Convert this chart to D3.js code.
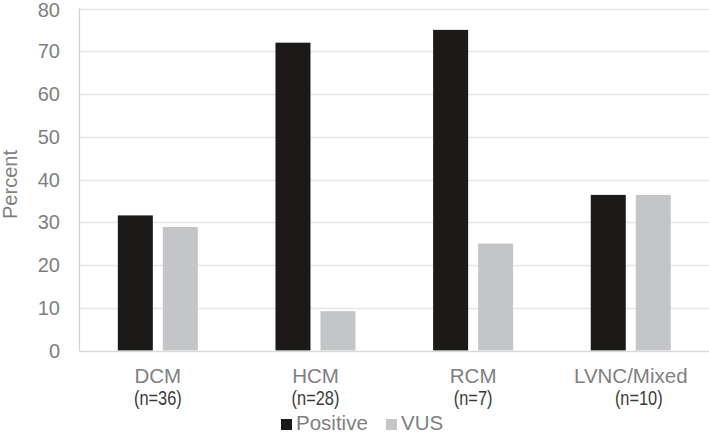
<!DOCTYPE html>
<html>
<head>
<meta charset="utf-8">
<script src="https://cdn.jsdelivr.net/npm/d3@7"></script>
<style>
  body { margin: 0; background: #fff; }
  svg { display: block; font-family: "Liberation Sans", Arial, sans-serif; }
</style>
</head>
<body>
<div id="chart"></div>
<script>
const categories = ["DCM", "HCM", "RCM", "LVNC/Mixed"];
const counts = ["(n=36)", "(n=28)", "(n=7)", "(n=10)"];
const seriesNames = ["Positive", "VUS"];
const positive = [31.6, 72.0, 75.0, 36.4];
const vus = [28.9, 9.2, 25.0, 36.4];
const yTicks = [0, 10, 20, 30, 40, 50, 60, 70, 80];

const colors = { "Positive": "#1c1a18", "VUS": "#c4c5c7" };

var width = 709, height = 434;
var margin = { top: 8.5, right: 0, bottom: 83.5, left: 79 };

var svg = d3.select("#chart").append("svg")
  .attr("width", width)
  .attr("height", height);

var x = d3.scaleBand()
  .domain(categories)
  .range([margin.left, 709.6])
  .padding(0);

var y = d3.scaleLinear()
  .domain([0, 80])
  .range([height - margin.bottom, margin.top]);

// gridlines
svg.append("g")
  .selectAll("line")
  .data(yTicks.slice(1))
  .enter()
  .append("line")
  .attr("x1", margin.left)
  .attr("x2", width)
  .attr("y1", d => Math.round(y(d)) + 0.5)
  .attr("y2", d => Math.round(y(d)) + 0.5)
  .attr("stroke", "#e6e6e6")
  .attr("stroke-width", 1.3);

// y axis labels
svg.append("g")
  .selectAll("text")
  .data(yTicks)
  .enter()
  .append("text")
  .attr("x", 60)
  .attr("y", d => y(d) + (d == 80 ? 1 : 0))
  .attr("dy", "0.36em")
  .attr("text-anchor", "end")
  .attr("fill", "#7f7f7f")
  .style("font-size", "20px")
  .text(d => d);

svg.append("text")
  .attr("transform", `translate(17, ${y(40) + 5}) rotate(-90)`)
  .attr("text-anchor", "middle")
  .attr("fill", "#7f7f7f")
  .style("font-size", "20px")
  .text("Percent");

// bars
var rows = categories.map((c, i) => ({ cat: c, values: [positive[i], vus[i]] }));

var groups = svg.append("g")
  .selectAll("g")
  .data(rows)
  .enter()
  .append("g");

groups.selectAll("rect")
  .data(d => d.values.map((v, j) => ({ cat: d.cat, name: seriesNames[j], v: v, j: j })))
  .enter()
  .append("rect")
  .attr("x", d => x(d.cat) + x.bandwidth() / 2 + (d.j == 0 ? -40 : 5))
  .attr("width", 35)
  .attr("y", d => y(d.v))
  .attr("height", d => y(0) - y(d.v))
  .attr("fill", d => colors[d.name]);

// axes lines
svg.append("line")
  .attr("x1", margin.left + 0.5).attr("x2", margin.left + 0.5)
  .attr("y1", y(80)).attr("y2", y(0))
  .attr("stroke", "#d0d0d0").attr("stroke-width", 1.2);
svg.append("line")
  .attr("x1", margin.left).attr("x2", width)
  .attr("y1", Math.round(y(0)) + 0.5).attr("y2", Math.round(y(0)) + 0.5)
  .attr("stroke", "#d9d9d9").attr("stroke-width", 1.5);

// category labels
svg.append("g")
  .selectAll("text")
  .data(categories)
  .enter()
  .append("text")
  .attr("x", d => x(d) + x.bandwidth() / 2)
  .attr("y", 382.5)
  .attr("text-anchor", "middle")
  .attr("fill", "#7f7f7f")
  .style("font-size", "20.5px")
  .text(d => d);

// n counts, squeezed to look like a narrow face
svg.append("g")
  .selectAll("text")
  .data(counts)
  .enter()
  .append("text")
  .attr("transform", (d, i) => `translate(${x(categories[i]) + x.bandwidth() / 2 + (i == 3 ? 8 : 0)}, 404.5) scale(0.84, 1)`)
  .attr("text-anchor", "middle")
  .attr("fill", "#3a3a3a")
  .style("font-size", "19.5px")
  .text(d => d);

// legend
var legendX = [281, 386];
var legend = svg.append("g")
  .selectAll("g")
  .data(seriesNames)
  .enter()
  .append("g")
  .attr("transform", (d, i) => `translate(${legendX[i]}, 419)`);

legend.append("rect")
  .attr("width", 11)
  .attr("height", 11)
  .attr("fill", d => colors[d]);

legend.append("text")
  .attr("x", 15)
  .attr("y", 10.5)
  .attr("fill", "#7f7f7f")
  .style("font-size", "20.5px")
  .text(d => d);
</script>
</body>
</html>
